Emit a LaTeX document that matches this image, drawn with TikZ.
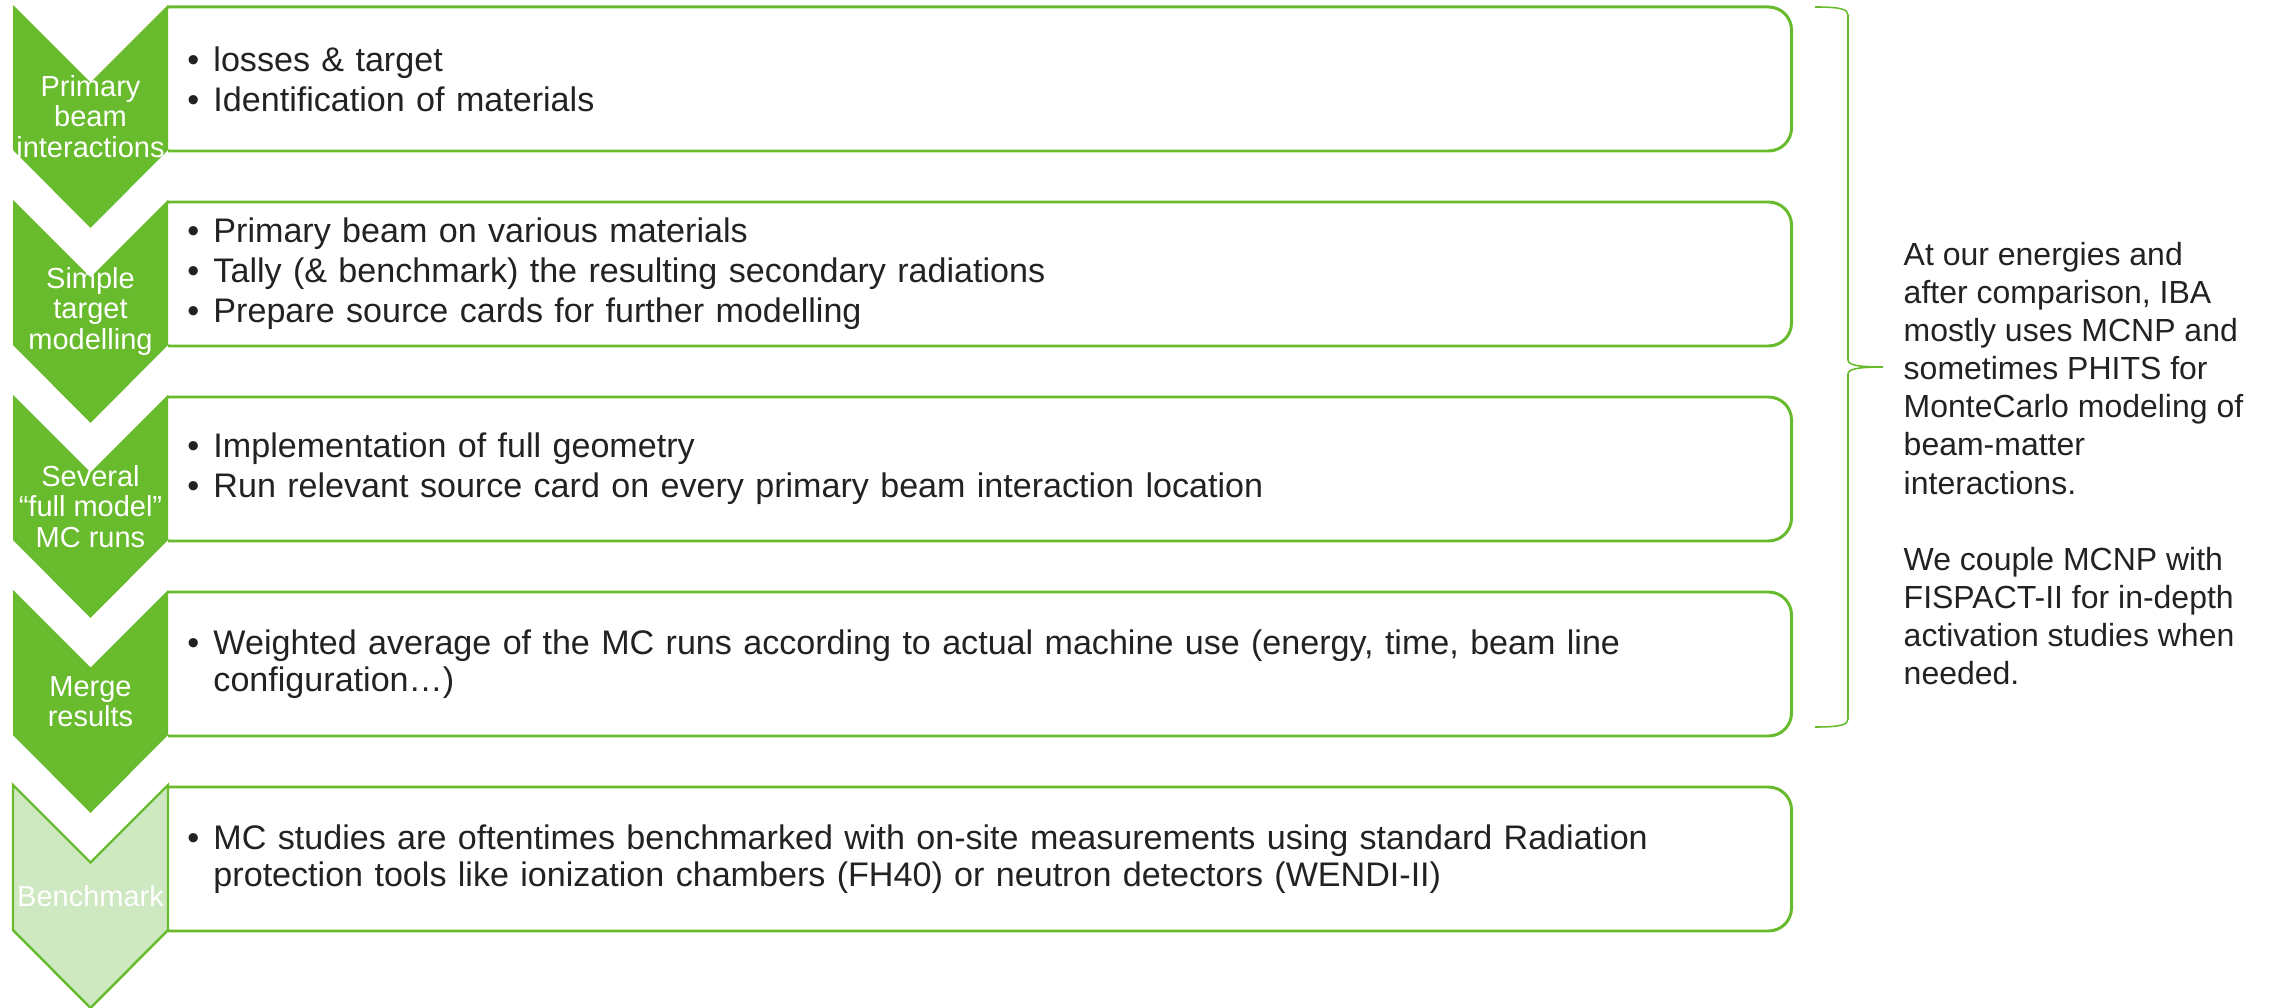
\documentclass[tikz,border=0pt]{standalone}
\usepackage{fontspec}
\setmainfont{Liberation Sans}
\definecolor{ibagreen}{RGB}{104,187,44}
\definecolor{ibalight}{RGB}{206,232,193}
\definecolor{ink}{RGB}{34,34,34}
\newcommand{\itm}{\makebox[0.26cm][l]{\textbullet}}
\newcommand{\cont}{\hspace*{0.26cm}}

\begin{document}
\begin{tikzpicture}[every node/.style={font=\fontsize{9.7}{10.5}\selectfont,text=ink}]
  \tikzstyle{chev}=[fill=ibagreen]
  \tikzstyle{chevtxt}=[align=center,text=white,font=\fontsize{8.25}{8.6}\selectfont,inner sep=0pt]
  \tikzstyle{stepbox}=[draw=ibagreen,line width=0.85pt,rounded corners=0.23cm,minimum height=1.44cm,text width=15.63cm,align=left,inner xsep=0.41cm,anchor=west]
  \useasboundingbox (0,0) rectangle (22.69,10.07);

  % boxes, left ends hidden under the chevrons
  \begin{scope}
    \clip (1.68,-0.1) rectangle (18,10.1);
    \node[stepbox] (box1) at (1.45,9.28) {\itm losses \& target\\[0.85pt]\itm Identification of materials};
    \node[stepbox] (box2) at (1.45,7.33) {\itm Primary beam on various materials\\[0.85pt]\itm Tally (\& benchmark) the resulting secondary radiations\\[0.85pt]\itm Prepare source cards for further modelling};
    \node[stepbox] (box3) at (1.45,5.38) {\itm Implementation of full geometry\\[0.85pt]\itm Run relevant source card on every primary beam interaction location};
    \node[stepbox] (box4) at (1.45,3.43) {\itm Weighted average of the MC runs according to actual machine use (energy, time, beam line\\\cont configuration…)};
    \node[stepbox] (box5) at (1.45,1.48) {\itm MC studies are oftentimes benchmarked with on-site measurements using standard Radiation\\\cont protection tools like ionization chambers (FH40) or neutron detectors (WENDI-II)};
  \end{scope}

  % chevrons
  \fill[chev] (0.13,10.02) -- (0.905,9.245) -- (1.68,10.02) -- (1.68,8.57) -- (0.905,7.79) -- (0.13,8.57) -- cycle;
  \fill[chev] (0.13,8.07) -- (0.905,7.295) -- (1.68,8.07) -- (1.68,6.62) -- (0.905,5.84) -- (0.13,6.62) -- cycle;
  \fill[chev] (0.13,6.12) -- (0.905,5.345) -- (1.68,6.12) -- (1.68,4.67) -- (0.905,3.89) -- (0.13,4.67) -- cycle;
  \fill[chev] (0.13,4.17) -- (0.905,3.395) -- (1.68,4.17) -- (1.68,2.72) -- (0.905,1.94) -- (0.13,2.72) -- cycle;
  \filldraw[fill=ibalight,draw=ibagreen,line width=0.7pt] (0.13,2.22) -- (0.905,1.445) -- (1.68,2.22) -- (1.68,0.77) -- (0.905,-0.01) -- (0.13,0.77) -- cycle;

  \node[chevtxt] (lab1) at (0.905,8.905) {Primary\\beam\\interactions};
  \node[chevtxt] (lab2) at (0.905,6.955) {Simple\\target\\modelling};
  \node[chevtxt] (lab3) at (0.905,5.005) {Several\\“full model”\\MC runs};
  \node[chevtxt] (lab4) at (0.905,3.055) {Merge\\results};
  \node[chevtxt] (lab5) at (0.905,1.105) {Benchmark};

  % brace and side note
  \draw[ibagreen,line width=0.45pt] (18.15,10.00) .. controls (18.40,10.00) and (18.48,9.98) .. (18.48,9.92) -- (18.48,6.47) .. controls (18.48,6.42) and (18.58,6.40) .. (18.83,6.40) .. controls (18.58,6.40) and (18.48,6.38) .. (18.48,6.33) -- (18.48,2.88) .. controls (18.48,2.82) and (18.40,2.80) .. (18.15,2.80);
  \node[anchor=west,align=left,inner sep=0pt,font=\fontsize{9.1}{10.86}\selectfont] (note) at (19.03,5.435) {At our energies and\\after comparison, IBA\\mostly uses MCNP and\\sometimes PHITS for\\MonteCarlo modeling of\\beam-matter\\interactions.\\[10.86pt]We couple MCNP with\\FISPACT-II for in-depth\\activation studies when\\needed.};
\end{tikzpicture}
\end{document}
